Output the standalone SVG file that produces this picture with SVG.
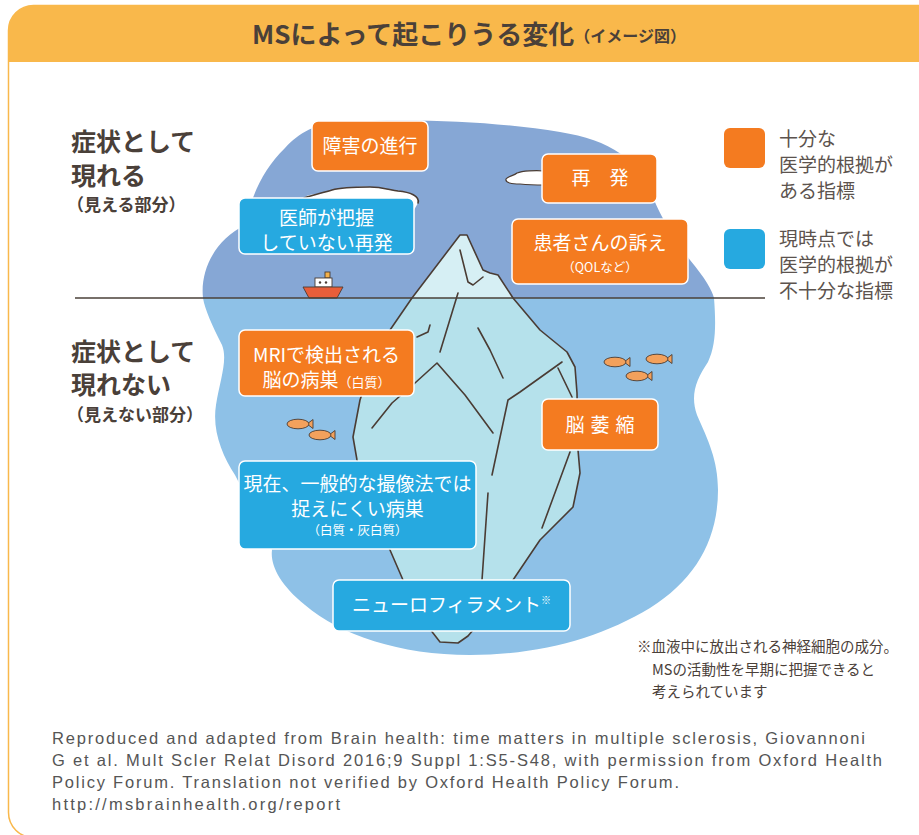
<svg xmlns="http://www.w3.org/2000/svg" width="919" height="835" viewBox="0 0 919 835">
  <defs>
    <style>
      .jp { font-family: "Noto Sans CJK JP", "Noto Sans", sans-serif; }
      .head { font-weight: 700; fill: #4a4039; }
      .box-o { fill: #f47b20; stroke: #ffffff; stroke-width: 1.5; }
      .box-b { fill: #26a9e0; stroke: #ffffff; stroke-width: 1.5; }
      .bt { fill: #ffffff; font-size: 19px; text-anchor: middle; }
      .bs { fill: #ffffff; font-size: 12.5px; text-anchor: middle; }
      .leg { fill: #5c534e; font-size: 19px; }
      .ink { fill: none; stroke: #4a3c34; stroke-width: 1.6; stroke-linecap: round; stroke-linejoin: round; }
      .note { fill: #4a4039; font-size: 14.5px; }
      .ref { font-family: "Liberation Sans", Arial, sans-serif; fill: #555555; font-size: 16.5px; }
    </style>
    <g id="fish">
      <path d="M9,0 L15,-4.5 L15,4.5 Z" fill="#f3a15c" stroke="#4a3c34" stroke-width="0.9" stroke-linejoin="round"/>
      <ellipse cx="0" cy="0" rx="11" ry="4.8" fill="#f3a15c" stroke="#4a3c34" stroke-width="0.9"/>
    </g>
  </defs>

  <!-- frame with header band -->
  <g id="frame">
    <rect x="8.5" y="5.5" width="960" height="832" rx="25" fill="#ffffff" stroke="#f9b84b" stroke-width="1.5"/>
    <path d="M8.5,62 L8.5,30.5 A25,25 0 0 1 33.5,5.5 L919,5.5 L919,62 Z" fill="#f9b84b"/>
  </g>

  <g id="title">
    <text class="jp head" x="252" y="44" font-size="26">MSによって起こりうる変化<tspan font-size="16" dy="-2">（イメージ図）</tspan></text>
  </g>

  <!-- sea and sky -->
  <g id="scene">
    <path d="M203,298 C200,270 215,240 245,225 C250,200 262,170 285,148 C300,132 315,124 340,122 C420,118 500,122 560,132 C610,140 640,160 652,195 C660,215 670,232 690,260 C705,278 712,290 714,298 Z" fill="#86a7d5"/>
    <path d="M203,298 L714,298 C716,325 716,345 708,362 C696,380 690,395 697,415 C708,440 718,460 718,490 C718,540 695,580 650,608 C600,638 540,655 470,655 C400,655 340,635 305,605 C280,585 270,565 272,550 C260,520 245,495 235,475 C222,455 212,430 216,405 C220,380 228,360 222,345 C212,325 205,310 203,298 Z" fill="#8ec1e7"/>

    <!-- clouds -->
    <path d="M304,200 C304,194 312,195 322,193 C332,190 342,187 356,187 C372,186 384,189 396,191 C410,192 420,196 418,203 L414,210 L300,210 Z" fill="#ffffff"/>
    <path class="ink" stroke-width="1.3" d="M304,198 C312,195 322,193 332,190 C342,187 356,187 370,187 C382,187 390,190 398,191 C410,192 420,196 418,203"/>
    <path d="M545,171 C535,170 522,171 517,173 C514,176 508,176 506,179 C505,183 512,184 520,184 C530,185 538,185 545,185 Z" fill="#ffffff" stroke="#4a3c34" stroke-width="1.2" stroke-linejoin="round"/>

    <!-- iceberg -->
    <g id="iceberg">
      <path d="M460,235 L467,235 L483,270 L490,273 L498,275 L513,298 L540,330 L567,352 L575,367 L577,393 L578,450 L580,473 L573,507 L540,540 L513,580 L490,610 L468,636 L458,643 L440,642 L433,633 L420,615 L403,580 L390,550 L375,518 L357,460 L353,437 L360,400 L370,370 L390,330 L412,298 Z" fill="#b5e1eb"/>
      <path d="M460,235 L467,235 L483,270 L490,273 L498,275 L513,298 L412,298 Z" fill="#d6eff4"/>
      <path class="ink" stroke-width="1.8" d="M460,235 L467,235 L483,270 L490,273 L498,275 L513,298 L540,330 L567,352 L575,367 L577,393 L578,450 L580,473 L573,507 L540,540 L513,580 L490,610 L468,636 L458,643 L440,642 L433,633 L420,615 L403,580 L390,550 L375,518 L357,460 L353,437 L360,400 L370,370 L390,330 L412,298 Z"/>
      <!-- cracks -->
      <path class="ink" stroke-width="1.3" d="M460,250 L468,282 L473,285 L483,277"/>
      <path class="ink" stroke-width="1.3" d="M458,293 L440,352"/>
      <path class="ink" stroke-width="1.3" d="M417,337 L428,332 L430,325"/>
      <path class="ink" stroke-width="1.3" d="M478,328 L490,350 L503,378"/>
      <path class="ink" stroke-width="1.3" d="M372,428 L392,403 L415,383 L437,363 L465,395 L493,433"/>
      <path class="ink" stroke-width="1.3" d="M562,362 L520,392 L508,400 L492,475"/>
      <path class="ink" stroke-width="1.3" d="M488,493 L482,580"/>
      <path class="ink" stroke-width="1.3" d="M558,368 L572,397"/>
      <path class="ink" stroke-width="1.3" d="M570,452 L542,528"/>
    </g>

    <!-- ship -->
    <g id="ship">
      <rect x="325" y="272" width="5" height="6" fill="#f3b14a" stroke="#4a3c34" stroke-width="0.9"/>
      <rect x="315" y="278" width="17" height="9" fill="#ffffff" stroke="#4a3c34" stroke-width="0.9"/>
      <circle cx="320" cy="282.5" r="1.2" fill="#4a3c34"/>
      <circle cx="326" cy="282.5" r="1.2" fill="#4a3c34"/>
      <path d="M303,287 L343,287 L337,298 L309,298 Z" fill="#e85e3a" stroke="#4a3c34" stroke-width="0.9" stroke-linejoin="round"/>
    </g>

    <!-- fish -->
    <use href="#fish" transform="translate(615,362)"/>
    <use href="#fish" transform="translate(657,359)"/>
    <use href="#fish" transform="translate(637,376)"/>
    <use href="#fish" transform="translate(298,424)"/>
    <use href="#fish" transform="translate(320,435)"/>

    <!-- waterline -->
    <line x1="75" y1="298" x2="765" y2="298" stroke="#4a4039" stroke-width="1.5"/>
  </g>

  <!-- side headings -->
  <g id="label-visible">
    <text class="jp head" x="71" y="151" font-size="25">症状として</text>
    <text class="jp head" x="71" y="185" font-size="25">現れる</text>
    <text class="jp head" x="67" y="211" font-size="17">（見える部分）</text>
  </g>
  <g id="label-hidden">
    <text class="jp head" x="71" y="361" font-size="25">症状として</text>
    <text class="jp head" x="71" y="394" font-size="25">現れない</text>
    <text class="jp head" x="67" y="421" font-size="17">（見えない部分）</text>
  </g>

  <!-- indicator boxes -->
  <g id="progression">
    <rect class="box-o" x="312" y="121" width="116" height="50" rx="6"/>
    <text class="jp bt" x="370" y="153">障害の進行</text>
  </g>
  <g id="unnoticed-relapse">
    <rect class="box-b" x="239" y="198" width="175" height="56" rx="6"/>
    <text class="jp bt" x="326.5" y="224.5">医師が把握</text>
    <text class="jp bt" x="326.5" y="249.5">していない再発</text>
  </g>
  <g id="relapse">
    <rect class="box-o" x="542" y="154" width="115" height="49" rx="6"/>
    <text class="jp bt" x="600" y="185">再　発</text>
  </g>
  <g id="patient-report">
    <rect class="box-o" x="512" y="219" width="176" height="65" rx="6"/>
    <text class="jp bt" x="600" y="250">患者さんの訴え</text>
    <text class="jp bs" x="600" y="272">（QOLなど）</text>
  </g>
  <g id="mri-lesions">
    <rect class="box-o" x="239" y="330" width="175" height="66" rx="6"/>
    <text class="jp bt" x="326.5" y="362">MRIで検出される</text>
    <text class="jp bt" x="326.5" y="387">脳の病巣<tspan font-size="13">（白質）</tspan></text>
  </g>
  <g id="atrophy">
    <rect class="box-o" x="542" y="399" width="116" height="51" rx="6"/>
    <text class="jp bt" x="603" y="432" font-size="18" letter-spacing="6">脳萎縮</text>
  </g>
  <g id="hidden-lesions">
    <rect class="box-b" x="239" y="461" width="237" height="88" rx="6"/>
    <text class="jp bt" x="357.5" y="491" font-size="18.5">現在、一般的な撮像法では</text>
    <text class="jp bt" x="357.5" y="516">捉えにくい病巣</text>
    <text class="jp bs" x="357.5" y="535">（白質・灰白質）</text>
  </g>
  <g id="neurofilament">
    <rect class="box-b" x="333" y="580" width="237" height="51" rx="6"/>
    <text class="jp bt" x="451.5" y="612" font-size="18">ニューロフィラメント<tspan font-size="10" dy="-8">※</tspan></text>
  </g>

  <!-- legend -->
  <g id="legend-evidence">
    <rect x="724" y="128" width="41" height="40" rx="6" fill="#f47b20"/>
    <text class="jp leg" x="779" y="146">十分な</text>
    <text class="jp leg" x="779" y="172">医学的根拠が</text>
    <text class="jp leg" x="779" y="198">ある指標</text>
  </g>
  <g id="legend-insufficient">
    <rect x="724" y="229" width="41" height="40" rx="6" fill="#26a9e0"/>
    <text class="jp leg" x="779" y="246">現時点では</text>
    <text class="jp leg" x="779" y="272">医学的根拠が</text>
    <text class="jp leg" x="779" y="298">不十分な指標</text>
  </g>

  <!-- footnote -->
  <g id="footnote">
    <text class="jp note" x="637" y="652">※血液中に放出される神経細胞の成分。</text>
    <text class="jp note" x="652" y="675">MSの活動性を早期に把握できると</text>
    <text class="jp note" x="652" y="697">考えられています</text>
  </g>

  <!-- source -->
  <g id="source">
    <text class="ref" x="52" y="744" textLength="813" lengthAdjust="spacing">Reproduced and adapted from Brain health: time matters in multiple sclerosis, Giovannoni</text>
    <text class="ref" x="52" y="766" textLength="830" lengthAdjust="spacing">G et al. Mult Scler Relat Disord 2016;9 Suppl 1:S5-S48, with permission from Oxford Health</text>
    <text class="ref" x="52" y="788" textLength="627" lengthAdjust="spacing">Policy Forum. Translation not verified by Oxford Health Policy Forum.</text>
    <text class="ref" x="52" y="810" textLength="288" lengthAdjust="spacing">http://msbrainhealth.org/report</text>
  </g>
</svg>
